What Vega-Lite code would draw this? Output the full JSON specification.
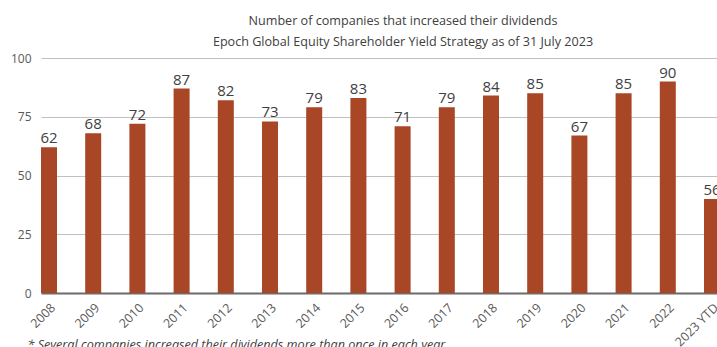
{
  "$schema": "https://vega.github.io/schema/vega-lite/v6.json",
  "width": 676,
  "height": 235,
  "autosize": {"type": "none"},
  "padding": {"left": 41, "top": 58, "right": 0, "bottom": 54},
  "background": "white",
  "config": {"view": {"stroke": null}, "font": "Open Sans"},
  "title": {
    "text": ["Number of companies that increased their dividends", "Epoch Global Equity Shareholder Yield Strategy as of 31 July 2023"],
    "font": "Open Sans",
    "fontSize": 12.6,
    "fontWeight": "normal",
    "color": "#404040",
    "anchor": "middle",
    "frame": "group",
    "dx": 24,
    "lineHeight": 21,
    "offset": 3
  },
  "data": {
    "values": [
      {"year": "2008", "bar": 62, "label": "62"},
      {"year": "2009", "bar": 68, "label": "68"},
      {"year": "2010", "bar": 72, "label": "72"},
      {"year": "2011", "bar": 87, "label": "87"},
      {"year": "2012", "bar": 82, "label": "82"},
      {"year": "2013", "bar": 73, "label": "73"},
      {"year": "2014", "bar": 79, "label": "79"},
      {"year": "2015", "bar": 83, "label": "83"},
      {"year": "2016", "bar": 71, "label": "71"},
      {"year": "2017", "bar": 79, "label": "79"},
      {"year": "2018", "bar": 84, "label": "84"},
      {"year": "2019", "bar": 85, "label": "85"},
      {"year": "2020", "bar": 67, "label": "67"},
      {"year": "2021", "bar": 85, "label": "85"},
      {"year": "2022", "bar": 90, "label": "90"},
      {"year": "2023 YTD", "bar": 40, "label": "56"}
    ]
  },
  "encoding": {
    "x": {
      "field": "year",
      "type": "ordinal",
      "sort": null,
      "scale": {"range": [0, 679], "paddingInner": 0.638, "paddingOuter": 0},
      "axis": {
        "title": "* Several companies increased their dividends more than once in each year",
        "titleFont": "Open Sans",
        "titleFontSize": 12.6,
        "titleFontStyle": "italic",
        "titleFontWeight": "normal",
        "titleColor": "#404040",
        "titleAnchor": "start",
        "titleAlign": "left",
        "titleBaseline": "top",
        "titleX": -14,
        "titleY": 45,
        "labelAngle": -45,
        "labelFont": "Open Sans",
        "labelFontSize": 12.5,
        "labelColor": "#595959",
        "labelPadding": 8,
        "ticks": false,
        "domainColor": "#6b6b6b",
        "domainWidth": 2,
        "grid": false
      }
    },
    "y": {
      "field": "bar",
      "type": "quantitative",
      "scale": {"domain": [0, 100]},
      "axis": {
        "title": null,
        "values": [0, 25, 50, 75, 100],
        "domain": false,
        "ticks": false,
        "labelPadding": 10,
        "labelFont": "Open Sans",
        "labelFontSize": 12,
        "labelColor": "#595959",
        "gridColor": "#c0c0c0",
        "gridWidth": 1
      }
    }
  },
  "layer": [
    {"mark": {"type": "bar", "color": "#A84626"}},
    {
      "mark": {"type": "text", "font": "Open Sans", "fontSize": 15, "color": "#404040", "baseline": "alphabetic", "dy": -4},
      "encoding": {"text": {"field": "label"}}
    }
  ]
}
